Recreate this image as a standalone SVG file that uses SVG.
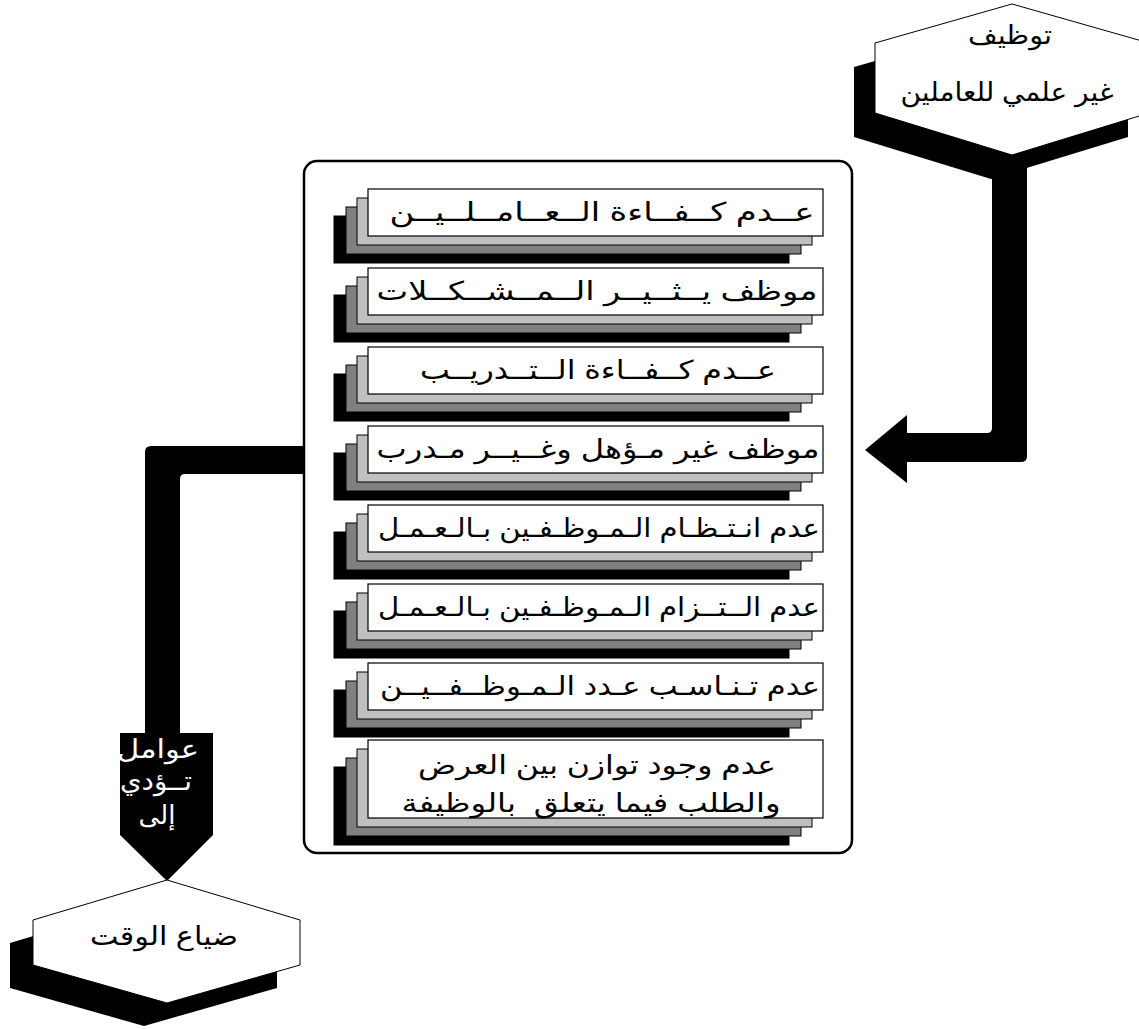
<svg xmlns="http://www.w3.org/2000/svg" xmlns:xlink="http://www.w3.org/1999/xlink" width="1139" height="1029" viewBox="0 0 1139 1029">
<style>
.l0{fill:#fff;stroke:#000;stroke-width:1.2}
.l1{fill:#c0c0c0;stroke:#000;stroke-width:1}
.l2{fill:#808080;stroke:#000;stroke-width:1}
.l3{fill:#000;stroke:#000;stroke-width:1}
.t{font-family:"Liberation Sans","DejaVu Sans",sans-serif;font-size:26px;fill:#000;text-anchor:middle;white-space:pre}
.w{fill:#fff}
.hex{fill:#fff;stroke:#000;stroke-width:1}
.sh{fill:#000}
.bar{fill:#000}
</style>
<defs>
<g id="stk">
<rect x="334" y="27" width="455" height="47" class="l3"/>
<rect x="346" y="18" width="455" height="47" class="l2"/>
<rect x="357" y="9" width="455" height="47" class="l1"/>
<rect x="368" y="0" width="455" height="47" class="l0"/>
</g>
<g id="stk2">
<rect x="334" y="27" width="455" height="78" class="l3"/>
<rect x="346" y="18" width="455" height="78" class="l2"/>
<rect x="357" y="9" width="455" height="78" class="l1"/>
<rect x="368" y="0" width="455" height="78" class="l0"/>
</g>
</defs>
<rect width="1139" height="1029" fill="#fff"/>

<g id="container">
<rect x="304" y="161" width="548" height="692" rx="13" ry="13" fill="#fff" stroke="#000" stroke-width="2.5"/>
</g>

<g id="node-top">
<polygon class="sh" points="991,28 1128,67 1128,137 991,179 854,137 854,67"/>
<polygon class="hex" points="1012,4 1149,43 1149,113 1012,155 875,113 875,43"/>
<text class="t" x="1010" y="44" textLength="84" lengthAdjust="spacingAndGlyphs">توظيف</text>
<text class="t" x="1007" y="101" textLength="213" lengthAdjust="spacingAndGlyphs">غير علمي للعاملين</text>
</g>

<g id="connectors">
<path class="bar" d="M992,158 L1027,158 L1027,456 Q1027,462 1021,462 L907,462 L907,483 L865,450 L907,415 L907,433 L987,433 Q992,433 992,428 Z"/>
<path class="bar" d="M304,446 L304,474 L185,474 Q180,474 180,479 L180,733 L213,733 L213,835 L167,881 L120,835 L120,733 L145,733 L145,452 Q145,446 151,446 Z"/>
<text class="t w" x="158" y="758" font-size="25" textLength="82" lengthAdjust="spacingAndGlyphs">عوامل</text>
<text class="t w" x="156" y="790" font-size="25" textLength="72" lengthAdjust="spacingAndGlyphs">تــؤدي</text>
<text class="t w" x="157" y="824" font-size="25">إلى</text>
</g>

<g id="box1"><use xlink:href="#stk" y="189"/><text class="t" x="602" y="221" textLength="425" lengthAdjust="spacingAndGlyphs">عــدم كــفــاءة الــعــامــلــيــن</text></g>
<g id="box2"><use xlink:href="#stk" y="268"/><text class="t" x="597" y="300" textLength="441" lengthAdjust="spacingAndGlyphs">موظف يــثــيــر الــمــشــكــلات</text></g>
<g id="box3"><use xlink:href="#stk" y="347"/><text class="t" x="598" y="379" textLength="356" lengthAdjust="spacingAndGlyphs">عــدم كــفــاءة الــتــدريــب</text></g>
<g id="box4"><use xlink:href="#stk" y="426"/><text class="t" x="598" y="458" textLength="443" lengthAdjust="spacingAndGlyphs">موظف غير مـؤهل وغــيــر مـدرب</text></g>
<g id="box5"><use xlink:href="#stk" y="505"/><text class="t" x="599" y="537" textLength="442" lengthAdjust="spacingAndGlyphs">عدم انـتـظـام الـمـوظـفـين بـالـعـمـل</text></g>
<g id="box6"><use xlink:href="#stk" y="584"/><text class="t" x="599" y="616" textLength="442" lengthAdjust="spacingAndGlyphs">عدم الــتــزام الـمـوظـفـين بـالـعـمـل</text></g>
<g id="box7"><use xlink:href="#stk" y="663"/><text class="t" x="600" y="695" textLength="440" lengthAdjust="spacingAndGlyphs">عدم تـنـاسـب عـدد الـمـوظــفــيــن</text></g>
<g id="box8"><use xlink:href="#stk2" y="740"/><text class="t" x="597" y="774" textLength="358" lengthAdjust="spacingAndGlyphs">عدم وجود توازن بين العرض</text><text class="t" x="591" y="812" textLength="379" lengthAdjust="spacingAndGlyphs">والطلب فيما يتعلق  بالوظيفة</text></g>

<g id="node-bottom">
<polygon class="sh" points="144,903 277,943 277,988 144,1026 10,988 10,943"/>
<polygon class="hex" points="167,880 300,920 300,965 167,1003 33,965 33,920"/>
<text class="t" x="164" y="945" textLength="148" lengthAdjust="spacingAndGlyphs">ضياع الوقت</text>
</g>
</svg>
